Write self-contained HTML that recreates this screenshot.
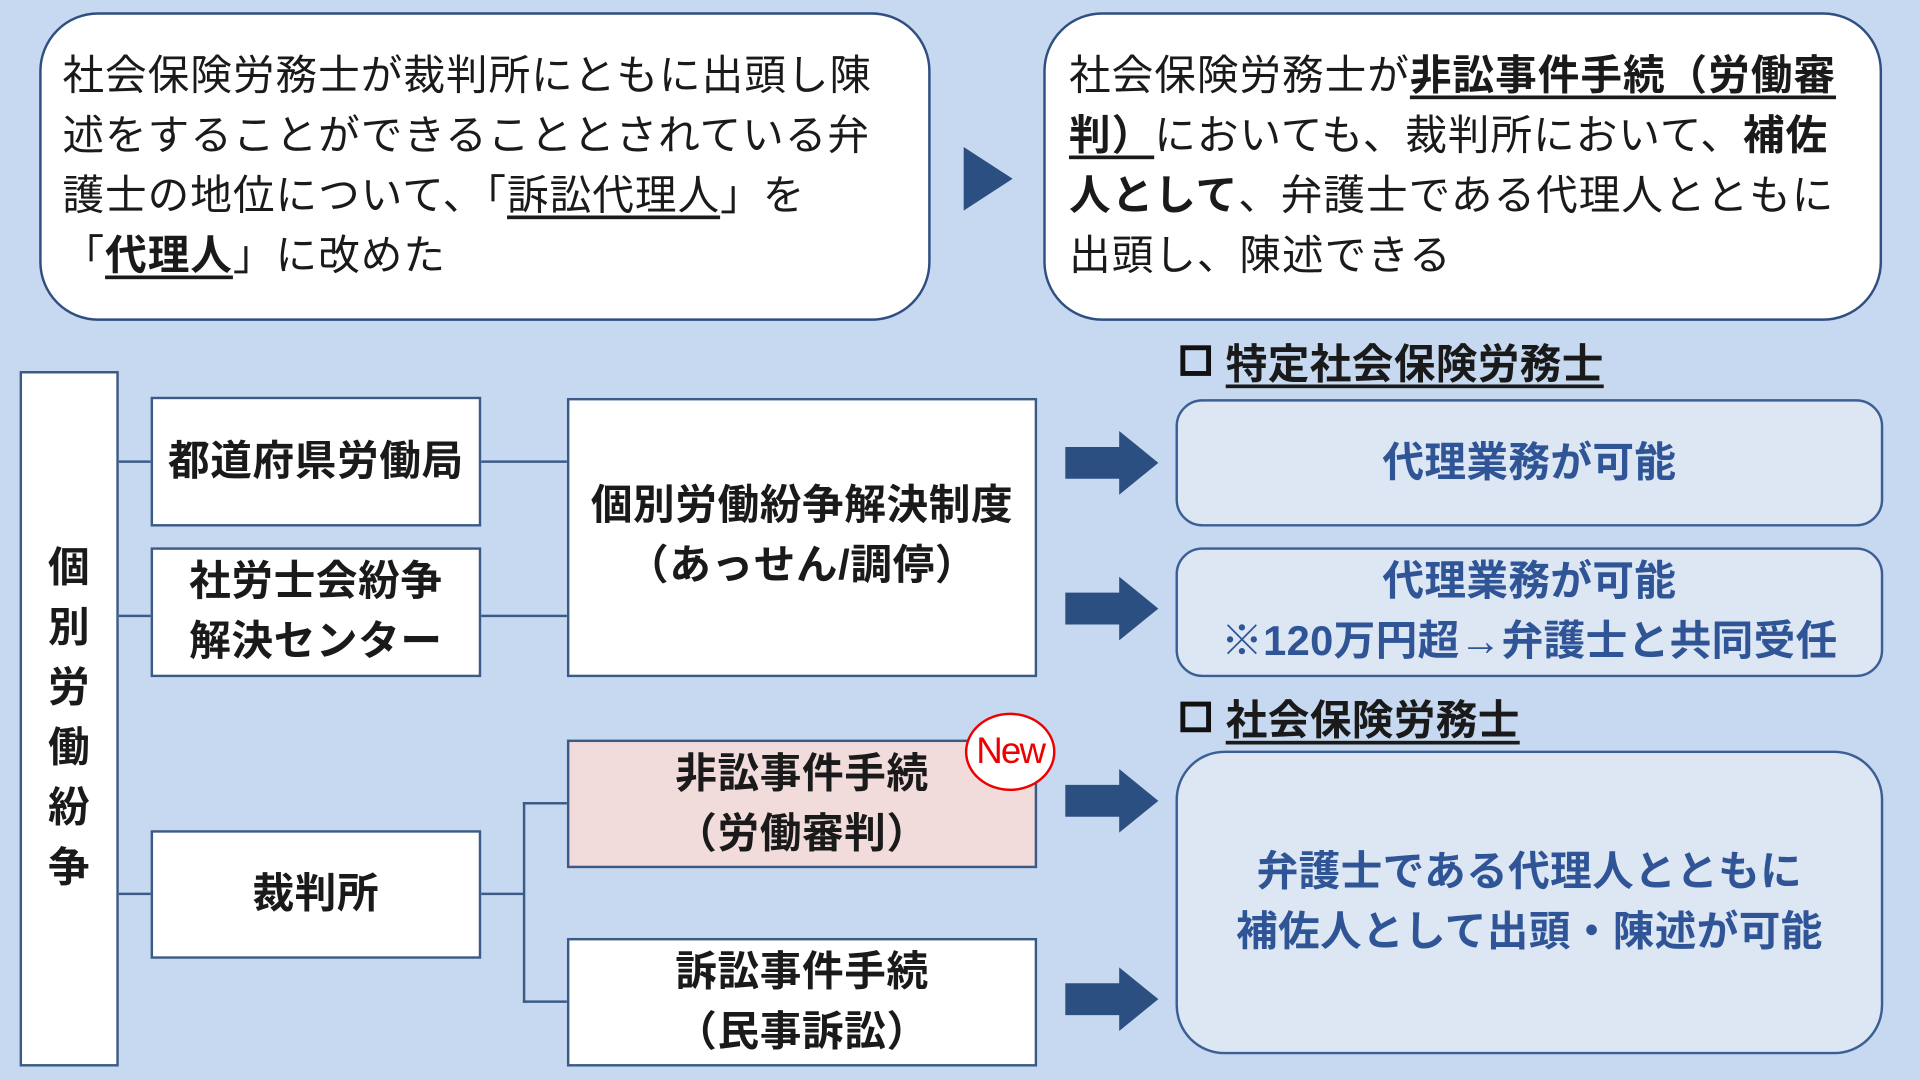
<!DOCTYPE html>
<html><head><meta charset="utf-8">
<style>
html,body{margin:0;padding:0;width:1920px;height:1080px;overflow:hidden;background:#c6d9f0;}
#w{position:absolute;left:0;top:0;width:1568px;height:882px;transform:scale(1.22449);transform-origin:0 0;
font-family:"Liberation Sans","Noto Sans CJK JP",sans-serif;color:#1a1a1a;}
.a{position:absolute;box-sizing:border-box;}
.rb{background:#fff;border:2px solid #2f4f80;border-radius:48px;font-size:34px;letter-spacing:0.8px;line-height:49px;padding:26px 0 0 17px;white-space:nowrap;}
.sq{background:#fff;border:2px solid #3b5a86;font-weight:bold;font-size:34px;letter-spacing:0.5px;display:flex;align-items:center;justify-content:center;text-align:center;line-height:49px;white-space:nowrap;}
.bl{background:#dde6f3;border:2px solid #3b5f95;border-radius:22px;color:#2f5597;font-weight:bold;font-size:34px;letter-spacing:0.3px;display:flex;align-items:center;justify-content:center;text-align:center;line-height:49px;white-space:nowrap;}
.ln{position:absolute;background:#3b5a86;}
u{text-underline-offset:5px;}
.h{font-weight:bold;font-size:34px;letter-spacing:0.3px;white-space:nowrap;}
.bx{display:inline-block;width:17px;height:17px;border:4px solid #111;margin-right:12px;vertical-align:2px;}
</style></head><body><div id="w">
<div class="a rb" style="left:32px;top:10px;width:728px;height:252px;">社会保険労務士が裁判所にともに出頭し陳<br>述をすることができることとされている弁<br>護士の地位について、「<u>訴訟代理人</u>」を<br>「<b><u>代理人</u></b>」に改めた</div>
<svg class="a" style="left:785px;top:118px" width="45" height="56"><polygon points="2,2 42,28 2,54" fill="#2c4f82"/></svg>
<div class="a rb" style="left:852px;top:10px;width:685px;height:252px;padding-left:19px;">社会保険労務士が<b><u>非訟事件手続（労働審<br>判）</u></b>においても、裁判所において、<b>補佐<br>人として</b>、弁護士である代理人とともに<br>出頭し、陳述できる</div>

<div class="a sq" style="left:16px;top:303px;width:81px;height:568px;line-height:49px;">個<br>別<br>労<br>働<br>紛<br>争</div>
<div class="ln" style="left:97px;top:376px;width:26px;height:2px"></div>
<div class="ln" style="left:97px;top:502px;width:26px;height:2px"></div>
<div class="ln" style="left:97px;top:729px;width:26px;height:2px"></div>
<div class="ln" style="left:392px;top:376px;width:71px;height:2px"></div>
<div class="ln" style="left:392px;top:502px;width:71px;height:2px"></div>
<div class="ln" style="left:392px;top:729px;width:36px;height:2px"></div>
<div class="ln" style="left:427px;top:655px;width:2px;height:164px"></div>
<div class="ln" style="left:427px;top:655px;width:36px;height:2px"></div>
<div class="ln" style="left:427px;top:817px;width:36px;height:2px"></div>

<div class="a sq" style="left:123px;top:324px;width:270px;height:106px;">都道府県労働局</div>
<div class="a sq" style="left:123px;top:447px;width:270px;height:106px;">社労士会紛争<br>解決センター</div>
<div class="a sq" style="left:123px;top:678px;width:270px;height:105px;">裁判所</div>
<div class="a sq" style="left:463px;top:325px;width:384px;height:228px;align-items:flex-start;padding-top:62px;">個別労働紛争解決制度<br>（あっせん/調停）</div>
<div class="a sq" style="left:463px;top:604px;width:384px;height:105px;background:#f2dcdb;">非訟事件手続<br>（労働審判）</div>
<div class="a sq" style="left:463px;top:766px;width:384px;height:105px;">訴訟事件手続<br>（民事訴訟）</div>
<div class="a" style="left:788px;top:582px;width:74px;height:64px;border:2px solid #e00;border-radius:50%;background:#fff;color:#e00;font-size:30px;display:flex;align-items:center;justify-content:center;letter-spacing:-1.5px;">New</div>

<svg class="a" style="left:868px;top:350px" width="80" height="56"><polygon points="2,15 46,15 46,2 78,28 46,54 46,41 2,41" fill="#2c4f82"/></svg>
<svg class="a" style="left:868px;top:469px" width="80" height="56"><polygon points="2,15 46,15 46,2 78,28 46,54 46,41 2,41" fill="#2c4f82"/></svg>
<svg class="a" style="left:868px;top:626px" width="80" height="56"><polygon points="2,15 46,15 46,2 78,28 46,54 46,41 2,41" fill="#2c4f82"/></svg>
<svg class="a" style="left:868px;top:788px" width="80" height="56"><polygon points="2,15 46,15 46,2 78,28 46,54 46,41 2,41" fill="#2c4f82"/></svg>

<div class="a h" style="left:964px;top:270px;"><span class="bx"></span><u>特定社会保険労務士</u></div>
<div class="a h" style="left:964px;top:561px;"><span class="bx"></span><u>社会保険労務士</u></div>
<div class="a bl" style="left:960px;top:326px;width:578px;height:104px;">代理業務が可能</div>
<div class="a bl" style="left:960px;top:447px;width:578px;height:106px;">代理業務が可能<br>※120万円超→弁護士と共同受任</div>
<div class="a bl" style="left:960px;top:613px;width:578px;height:248px;border-radius:40px;">弁護士である代理人とともに<br>補佐人として出頭・陳述が可能</div>
</div></body></html>
